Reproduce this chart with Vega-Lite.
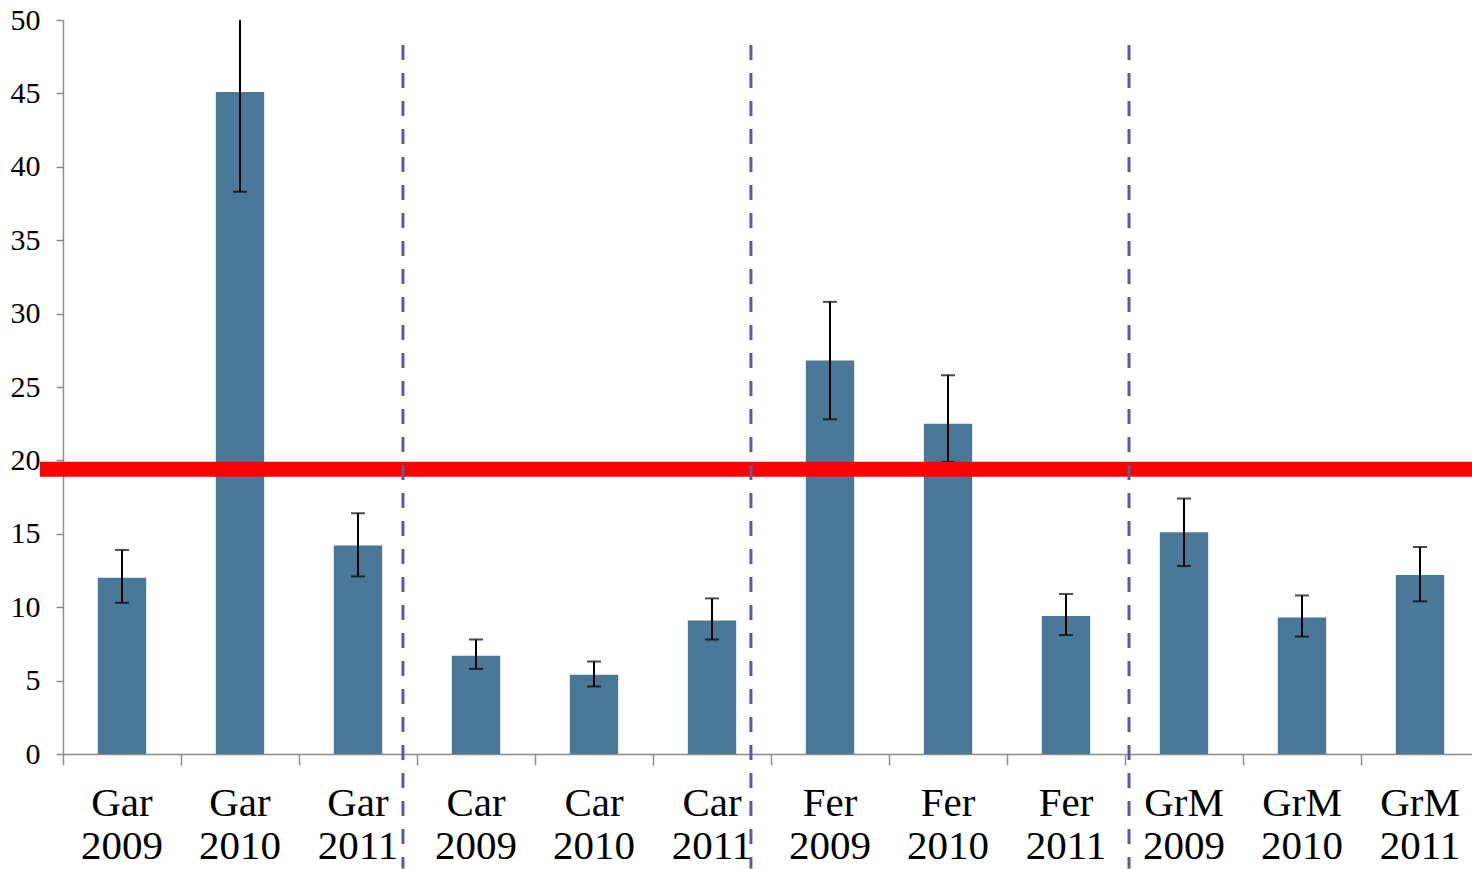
{
  "$schema": "https://vega.github.io/schema/vega-lite/v6.json",
  "width": 1416,
  "height": 734,
  "autosize": "none",
  "padding": {"left": 63, "top": 20, "right": -7, "bottom": 115},
  "background": "white",
  "config": {"view": {"stroke": null}, "font": "Liberation Serif"},
  "datasets": {
    "bars": [
      {"label": "Gar 2009", "value": 12.0, "lo": 10.3, "hi": 13.9},
      {"label": "Gar 2010", "value": 45.1, "lo": 38.3, "hi": 51.9},
      {"label": "Gar 2011", "value": 14.2, "lo": 12.1, "hi": 16.4},
      {"label": "Car 2009", "value": 6.7, "lo": 5.8, "hi": 7.8},
      {"label": "Car 2010", "value": 5.4, "lo": 4.6, "hi": 6.3},
      {"label": "Car 2011", "value": 9.1, "lo": 7.8, "hi": 10.6},
      {"label": "Fer 2009", "value": 26.8, "lo": 22.8, "hi": 30.8},
      {"label": "Fer 2010", "value": 22.5, "lo": 19.9, "hi": 25.8},
      {"label": "Fer 2011", "value": 9.4, "lo": 8.1, "hi": 10.9},
      {"label": "GrM 2009", "value": 15.1, "lo": 12.8, "hi": 17.4},
      {"label": "GrM 2010", "value": 9.3, "lo": 8.0, "hi": 10.8},
      {"label": "GrM 2011", "value": 12.2, "lo": 10.4, "hi": 14.1}
    ],
    "threshold": [{"x": -0.195, "x2": 12, "y": 19.4}],
    "dividers": [
      {"x": 2.881, "y": 48.3, "y2": -7.8},
      {"x": 5.83, "y": 48.3, "y2": -7.8},
      {"x": 9.034, "y": 48.3, "y2": -7.8}
    ]
  },
  "layer": [
    {
      "data": {"name": "bars"},
      "encoding": {
        "x": {
          "field": "label",
          "type": "nominal",
          "sort": null,
          "title": null,
          "scale": {"paddingInner": 0, "paddingOuter": 0},
          "axis": {
            "labelAngle": 0,
            "labelExpr": "split(datum.label, ' ')",
            "labelFont": "Liberation Serif",
            "labelFontSize": 41,
            "labelLineHeight": 43,
            "labelColor": "black",
            "labelBaseline": "top",
            "labelPadding": 18,
            "bandPosition": 0,
            "tickSize": 11,
            "tickColor": "#8c8c8c",
            "tickWidth": 1.5,
            "domainColor": "#8c8c8c",
            "domainWidth": 1.5,
            "grid": false
          }
        }
      },
      "layer": [
        {
          "mark": {"type": "bar", "color": "#4a7899", "width": {"band": 0.41}},
          "encoding": {
            "y": {
              "field": "value",
              "type": "quantitative",
              "title": null,
              "scale": {"domain": [0, 50], "nice": false},
              "axis": {
                "values": [0, 5, 10, 15, 20, 25, 30, 35, 40, 45, 50],
                "labelFont": "Liberation Serif",
                "labelFontSize": 30,
                "labelColor": "black",
                "labelPadding": 16,
                "tickSize": 7,
                "tickColor": "#8c8c8c",
                "tickWidth": 1.5,
                "domainColor": "#8c8c8c",
                "domainWidth": 1.5,
                "grid": false
              }
            }
          }
        },
        {
          "mark": {"type": "rule", "color": "black", "strokeWidth": 2, "clip": true},
          "encoding": {
            "y": {"field": "lo", "type": "quantitative"},
            "y2": {"field": "hi"}
          }
        },
        {
          "mark": {"type": "tick", "color": "black", "size": 14, "thickness": 2, "clip": true},
          "encoding": {"y": {"field": "lo", "type": "quantitative"}}
        },
        {
          "mark": {"type": "tick", "color": "black", "size": 14, "thickness": 2, "clip": true},
          "encoding": {"y": {"field": "hi", "type": "quantitative"}}
        }
      ]
    },
    {
      "data": {"name": "threshold"},
      "mark": {"type": "rule", "color": "#ff0000", "strokeWidth": 15, "clip": false},
      "encoding": {
        "x": {"field": "x", "type": "quantitative", "scale": {"domain": [0, 12], "nice": false, "zero": false}, "axis": null},
        "x2": {"field": "x2"},
        "y": {"field": "y", "type": "quantitative"}
      }
    },
    {
      "data": {"name": "dividers"},
      "mark": {"type": "rule", "color": "#5a5aa0", "strokeWidth": 3, "strokeDash": [15, 13], "clip": false},
      "encoding": {
        "x": {"field": "x", "type": "quantitative", "scale": {"domain": [0, 12], "nice": false, "zero": false}, "axis": null},
        "y": {"field": "y", "type": "quantitative"},
        "y2": {"field": "y2"}
      }
    }
  ],
  "resolve": {"scale": {"x": "independent"}}
}
